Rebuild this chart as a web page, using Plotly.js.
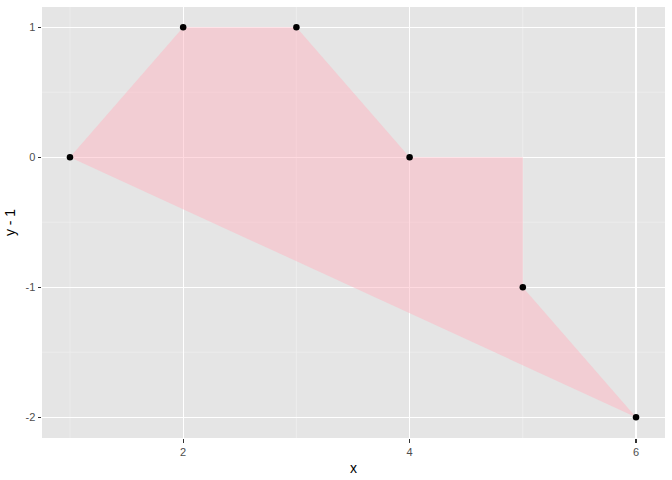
<!DOCTYPE html>
<html><head><meta charset="utf-8">
<script src="https://cdn.plot.ly/plotly-3.0.1.min.js"></script>
<style>body{margin:0;padding:0;background:#fff}#c{width:672px;height:480px}</style>
</head><body><div id="c"></div>
<script>
const polyX = [1, 2, 3, 4, 5, 5, 6, 1];
const polyY = [0, 1, 1, 0, 0, -1, -2, 0];
const ptX = [1, 2, 3, 4, 5, 6];
const ptY = [0, 1, 1, 0, -1, -2];
const xTicks = [2, 4, 6];
const yTicks = [-2, -1, 0, 1];
const xMinor = [1, 3, 5];
const yMinor = [-1.5, -0.5, 0.5];

const shapes = [];
xMinor.forEach(v => shapes.push({type:'line', xref:'x', yref:'paper', x0:v, x1:v, y0:0, y1:1, line:{color:'#F2F2F2', width:0.6}, layer:'below'}));
yMinor.forEach(v => shapes.push({type:'line', xref:'paper', yref:'y', x0:0, x1:1, y0:v, y1:v, line:{color:'#F2F2F2', width:0.6}, layer:'below'}));

const data = [
  {x: polyX, y: polyY, type:'scatter', mode:'lines', fill:'toself', fillcolor:'rgba(255,182,193,0.5)', line:{width:0}, hoverinfo:'skip'},
  {x: ptX, y: ptY, type:'scatter', mode:'markers', marker:{color:'#000', size:6.5}}
];
const layout = {
  width:672, height:480, showlegend:false,
  paper_bgcolor:'#fff', plot_bgcolor:'#E5E5E5',
  margin:{l:42, r:7, t:7, b:42},
  shapes: shapes,
  xaxis:{range:[0.753,6.256], tickvals:xTicks, ticktext:xTicks.map(String), showgrid:true, gridcolor:'#fff', gridwidth:1.1, zeroline:false,
    ticks:'outside', ticklen:3.5, tickcolor:'#333', tickwidth:1.1, tickfont:{family:'Liberation Sans, Arial', size:11, color:'#4D4D4D'},
    title:{text:'x', font:{family:'Liberation Sans, Arial', size:14, color:'#000'}, standoff:6}},
  yaxis:{range:[-2.16,1.155], tickvals:yTicks, ticktext:yTicks.map(String), showgrid:true, gridcolor:'#fff', gridwidth:1.1, zeroline:false,
    ticks:'outside', ticklen:3.5, tickcolor:'#333', tickwidth:1.1, tickfont:{family:'Liberation Sans, Arial', size:11, color:'#4D4D4D'},
    title:{text:'y - 1', font:{family:'Liberation Sans, Arial', size:14, color:'#000'}, standoff:6}}
};
Plotly.newPlot('c', data, layout, {displayModeBar:false, staticPlot:true});
</script></body></html>
